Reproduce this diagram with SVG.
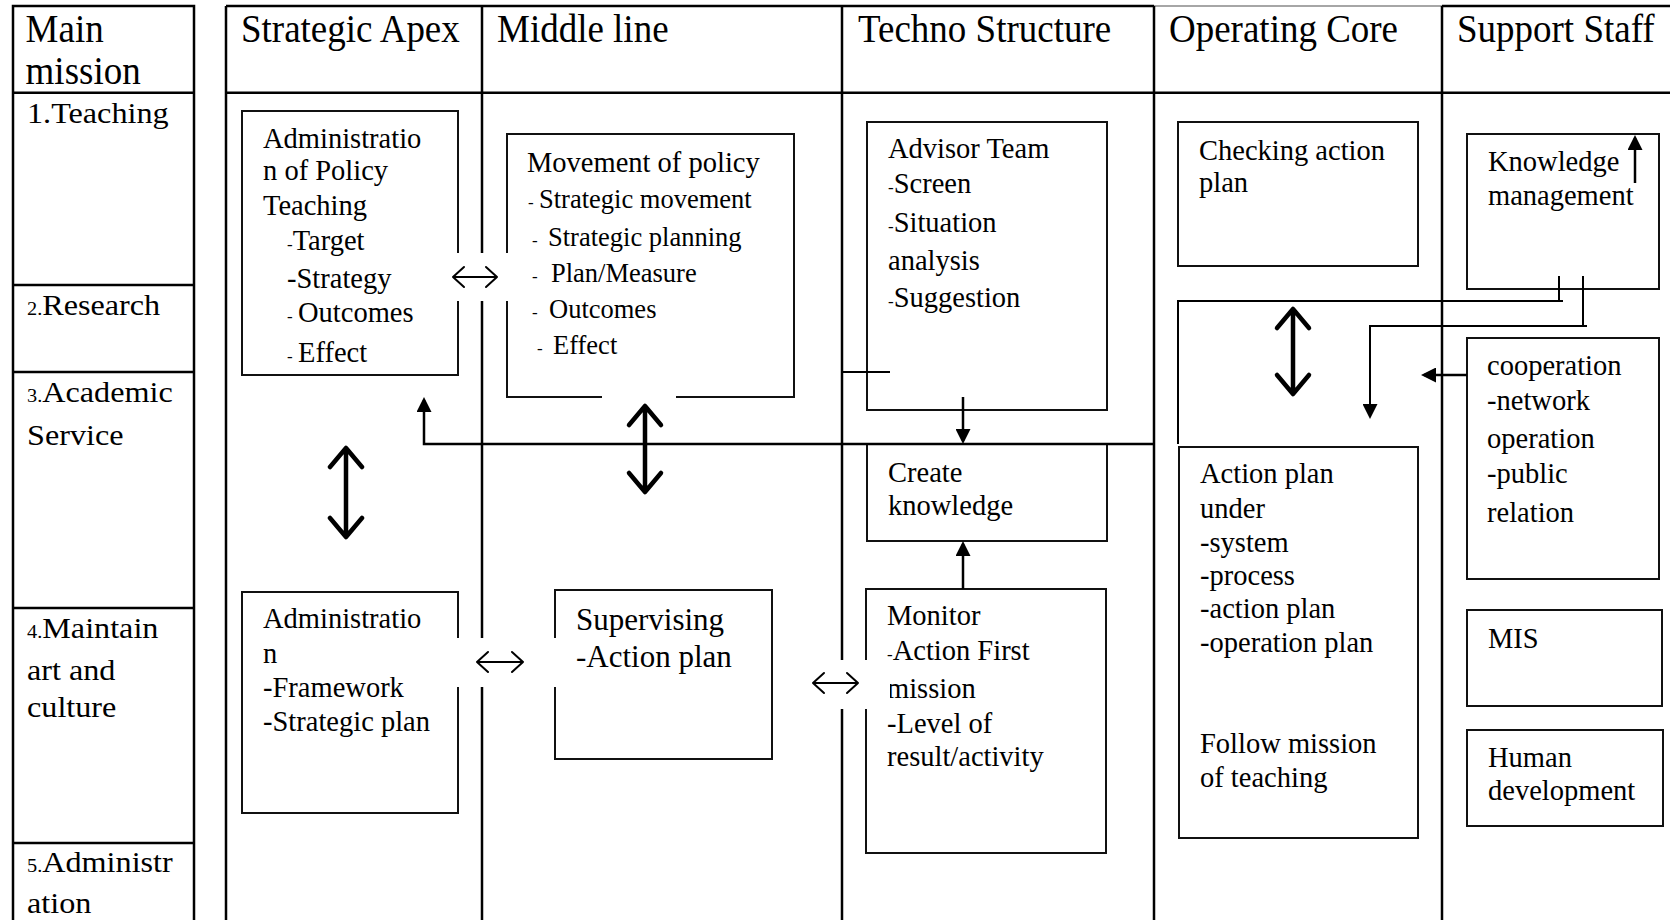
<svg xmlns="http://www.w3.org/2000/svg" width="1670" height="920" viewBox="0 0 1670 920">
<style>
  .grid{stroke:#000;stroke-width:2.5;fill:none}
  .grey{stroke:#888;stroke-width:1.5;fill:none}
  .box{fill:#fff;stroke:#111;stroke-width:2}
  .t{font-family:"Liberation Serif","Times New Roman",serif;font-size:28.5px;fill:#000}
  .hd{font-size:40px}
  .sm{font-size:17px}
  .sub{font-size:26.5px}
  .big{font-size:31px}
  .conn{fill:none;stroke:#000;stroke-width:2.5}
  .line{fill:none;stroke:#000;stroke-width:2}
  .dbl{fill:none;stroke:#000;stroke-width:4.5;stroke-linecap:round;stroke-linejoin:round}
  .lr{fill:none;stroke:#000;stroke-width:2;stroke-linecap:round;stroke-linejoin:round}
  .gap{fill:#fff;stroke:none}
</style>
<defs>
  <marker id="ah" viewBox="0 0 15 15" markerWidth="15" markerHeight="15" refX="12" refY="7.5" orient="auto" markerUnits="userSpaceOnUse">
    <path d="M0,0 L15,7.5 L0,15 z" fill="#000"/>
  </marker>
</defs>
<rect width="1670" height="920" fill="#fff"/>

<!-- table frame -->
<g id="grid">
  <rect class="grid" x="13" y="6" width="181" height="930"/>
  <path class="grid" d="M13,92.7 H194 M13,285 H194 M13,372 H194 M13,608 H194 M13,843 H194"/>
  <path class="grid" d="M226,6 H1154 M1442,6 H1670"/>
  <path class="grey" d="M1154,6 H1442"/>
  <path class="grid" d="M226,92.7 H1670"/>
  <path class="grid" d="M226,6 V920 M482,6 V920 M842,6 V920 M1154,6 V920 M1442,6 V920"/>
</g>

<!-- column and row headings -->
<g id="headers">
  <text class="t hd" transform="translate(25.6,41.5) scale(0.925,1)">Main</text>
  <text class="t hd" transform="translate(25.6,84) scale(0.925,1)">mission</text>
  <text class="t hd" transform="translate(241,41.5) scale(0.925,1)">Strategic Apex</text>
  <text class="t hd" transform="translate(497,41.5) scale(0.925,1)">Middle line</text>
  <text class="t hd" transform="translate(858,41.5) scale(0.925,1)">Techno Structure</text>
  <text class="t hd" transform="translate(1169,41.5) scale(0.925,1)">Operating Core</text>
  <text class="t hd" transform="translate(1457,41.5) scale(0.925,1)">Support Staff</text>
</g>

<g id="missions" transform="translate(27,0) scale(1.13,1)">
  <text class="t" x="0" y="123">1.Teaching</text>
  <text class="t" x="0" y="315"><tspan font-size="18">2.</tspan>Research</text>
  <text class="t" x="0" y="402"><tspan font-size="18">3.</tspan>Academic</text>
  <text class="t" x="0" y="445">Service</text>
  <text class="t" x="0" y="638"><tspan font-size="18">4.</tspan>Maintain</text>
  <text class="t" x="0" y="680">art and</text>
  <text class="t" x="0" y="717">culture</text>
  <text class="t" x="0" y="872"><tspan font-size="18">5.</tspan>Administr</text>
  <text class="t" x="0" y="913">ation</text>
</g>

<g id="admin-policy">
  <rect class="box" x="242" y="111" width="216" height="264"/>
  <text class="t" x="263" y="148">Administratio</text>
  <text class="t" x="263" y="180">n of Policy</text>
  <text class="t" x="263" y="215">Teaching</text>
  <text class="t" x="287" y="250"><tspan class="sm">-</tspan>Target</text>
  <text class="t" x="287" y="288">-Strategy</text>
  <text class="t" y="322"><tspan class="sm" x="287">-</tspan><tspan x="298">Outcomes</tspan></text>
  <text class="t" y="362"><tspan class="sm" x="287">-</tspan><tspan x="298">Effect</tspan></text>
</g>

<g id="movement-policy">
  <rect class="box" x="507" y="134" width="287" height="263"/>
  <text class="t" x="527" y="172">Movement of policy</text>
  <text class="t sub" y="208"><tspan class="sm" x="528">-</tspan><tspan x="539">Strategic movement</tspan></text>
  <text class="t sub" y="246"><tspan class="sm" x="532">-</tspan><tspan x="548">Strategic planning</tspan></text>
  <text class="t sub" y="282"><tspan class="sm" x="532">-</tspan><tspan x="551">Plan/Measure</tspan></text>
  <text class="t sub" y="318"><tspan class="sm" x="532">-</tspan><tspan x="549">Outcomes</tspan></text>
  <text class="t sub" y="354"><tspan class="sm" x="537">-</tspan><tspan x="553">Effect</tspan></text>
</g>

<g id="advisor-team">
  <rect class="box" x="867" y="122" width="240" height="288"/>
  <text class="t" x="888" y="158">Advisor Team</text>
  <text class="t" x="888" y="193"><tspan class="sm">-</tspan>Screen</text>
  <text class="t" x="888" y="232"><tspan class="sm">-</tspan>Situation</text>
  <text class="t" x="888" y="270">analysis</text>
  <text class="t" x="888" y="307"><tspan class="sm">-</tspan>Suggestion</text>
</g>

<g id="create-knowledge">
  <rect class="box" x="867" y="444" width="240" height="97"/>
  <text class="t" x="888" y="482">Create</text>
  <text class="t" x="888" y="515">knowledge</text>
</g>

<g id="monitor">
  <rect class="box" x="866" y="589" width="240" height="264"/>
  <text class="t" x="887" y="625">Monitor</text>
  <text class="t" x="887" y="660"><tspan class="sm">-</tspan>Action First</text>
  <text class="t" x="887" y="698">mission</text>
  <text class="t" x="887" y="733">-Level of</text>
  <text class="t" x="887" y="766">result/activity</text>
</g>

<g id="checking-plan">
  <rect class="box" x="1178" y="122" width="240" height="144"/>
  <text class="t" x="1199" y="160">Checking action</text>
  <text class="t" x="1199" y="192">plan</text>
</g>

<g id="action-plan">
  <rect class="box" x="1179" y="447" width="239" height="391"/>
  <text class="t" x="1200" y="483">Action plan</text>
  <text class="t" x="1200" y="518">under</text>
  <text class="t" x="1200" y="552">-system</text>
  <text class="t" x="1200" y="585">-process</text>
  <text class="t" x="1200" y="618">-action plan</text>
  <text class="t" x="1200" y="652">-operation plan</text>
  <text class="t" x="1200" y="753">Follow mission</text>
  <text class="t" x="1200" y="787">of teaching</text>
</g>

<g id="knowledge-management">
  <rect class="box" x="1467" y="134" width="192" height="155"/>
  <text class="t" x="1488" y="171">Knowledge</text>
  <text class="t" x="1488" y="205">management</text>
</g>

<g id="cooperation">
  <rect class="box" x="1467" y="338" width="192" height="241"/>
  <text class="t" x="1487" y="375">cooperation</text>
  <text class="t" x="1487" y="410">-network</text>
  <text class="t" x="1487" y="448">operation</text>
  <text class="t" x="1487" y="483">-public</text>
  <text class="t" x="1487" y="522">relation</text>
</g>

<g id="mis">
  <rect class="box" x="1467" y="610" width="195" height="96"/>
  <text class="t" x="1488" y="648">MIS</text>
</g>

<g id="human-development">
  <rect class="box" x="1467" y="730" width="196" height="96"/>
  <text class="t" x="1488" y="767">Human</text>
  <text class="t" x="1488" y="800">development</text>
</g>

<g id="supervising">
  <rect class="box" x="555" y="590" width="217" height="169"/>
  <text class="t big" x="576" y="630">Supervising</text>
  <text class="t big" x="576" y="667">-Action plan</text>
</g>

<g id="admin-framework">
  <rect class="box" x="242" y="592" width="216" height="221"/>
  <text class="t" x="263" y="628">Administratio</text>
  <text class="t" x="263" y="663">n</text>
  <text class="t" x="263" y="697">-Framework</text>
  <text class="t" x="263" y="731">-Strategic plan</text>
</g>

<g id="connectors">
  <!-- white label boxes that interrupt the frame under the two-way arrows -->
  <rect class="gap" x="452" y="253" width="58" height="48"/>
  <rect class="gap" x="455" y="638" width="103" height="49"/>
  <rect class="gap" x="808" y="660" width="82" height="49"/>
  <rect class="gap" x="602" y="392" width="74" height="9"/>

  <path class="lr" d="M453,277 H497 M464,267 L453,277 L464,287 M486,267 L497,277 L486,287"/>
  <path class="lr" d="M477,662 H523 M488,652 L477,662 L488,672 M512,652 L523,662 L512,672"/>
  <path class="lr" d="M813,683 H858 M824,673 L813,683 L824,693 M847,673 L858,683 L847,693"/>

  <path class="dbl" d="M346,449 V536 M330,467 L346,448 L362,467 M330,518 L346,537 L362,518"/>
  <path class="dbl" d="M645,407 V491 M629,425 L645,406 L661,425 M629,473 L645,492 L661,473"/>
  <path class="dbl" d="M1293,310 V393 M1277,328 L1293,309 L1309,328 M1277,375 L1293,394 L1309,375"/>

  <path class="conn" d="M1154,444 H424 V400" marker-end="url(#ah)"/>
  <path class="conn" d="M963,397 V441" marker-end="url(#ah)"/>
  <path class="conn" d="M963,589 V544" marker-end="url(#ah)"/>
  <path class="conn" d="M1635,183 V138" marker-end="url(#ah)"/>
  <path class="conn" d="M1467,375 H1424" marker-end="url(#ah)"/>
  <path class="line" d="M1583,276 V326 M1587,326 H1370 V416" marker-end="url(#ah)"/>
  <path class="line" d="M1559,276 V301 M1563,301 H1178 V444"/>
  <path class="line" d="M843,372 H890"/>
</g>
</svg>
